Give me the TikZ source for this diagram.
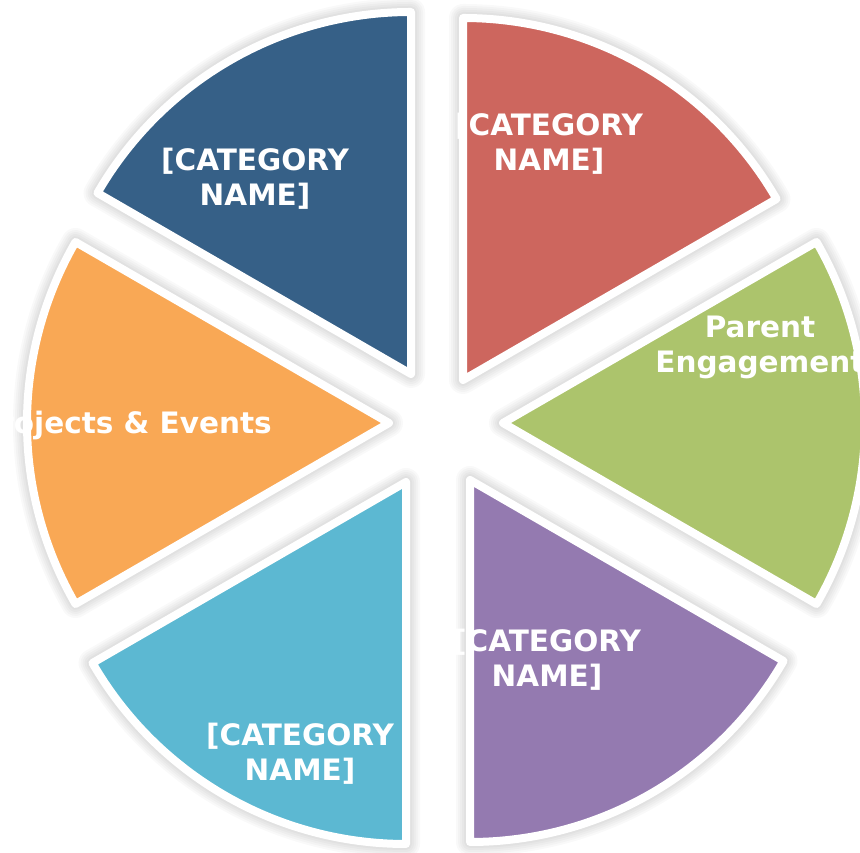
\documentclass[tikz,border=0pt]{standalone}
\usepackage{fontspec}
\setmainfont{DejaVu Sans}
\definecolor{cblue}{RGB}{54,96,135}
\definecolor{cred}{RGB}{205,102,94}
\definecolor{cgreen}{RGB}{172,196,108}
\definecolor{corange}{RGB}{249,168,85}
\definecolor{ccyan}{RGB}{92,184,210}
\definecolor{cpurple}{RGB}{148,122,176}
\tikzset{
  slicefill/.style={fill=#1, draw=white, line width=8pt, line join=round},
  shadowline/.style={draw=black, opacity=0.022, line join=round},
  lbl/.style={text=white, font=\fontsize{29.5}{35}\selectfont\bfseries, align=center, inner sep=0pt},
}
\newcommand\myslice[5]{%
  \coordinate (#1) at (#2);
  \foreach \w in {28,24,20,16,12} {\draw[shadowline, line width=\w pt] (#1) -- ++(#3:362pt) arc[start angle=#3, end angle=#4, radius=362pt] -- cycle;}
  \draw[slicefill=#5] (#1) -- ++(#3:362pt) arc[start angle=#3, end angle=#4, radius=362pt] -- cycle;
}
\begin{document}
\begin{tikzpicture}[x=1pt,y=1pt]
  \useasboundingbox (0,0) rectangle (860,853);
  \clip (0,0) rectangle (860,853);
  \fill[white] (0,0) rectangle (860,853);
  \myslice{redA}{463,473}{30}{90}{cred}
  \myslice{blueA}{411,479}{90}{150}{cblue}
  \myslice{orangeA}{389,430}{150}{210}{corange}
  \myslice{cyanA}{406,371}{210}{270}{ccyan}
  \myslice{purpleA}{470,373}{270}{330}{cpurple}
  \myslice{greenA}{503,430}{-30}{30}{cgreen}
  \node[lbl] (blueT) at (255,674) {[CATEGORY\\NAME]};
  \node[lbl] (redT) at (549,709) {[CATEGORY\\NAME]};
  \node[lbl] (greenT) at (760,506) {Parent\\Engagement};
  \node[lbl, anchor=base east] (orangeT) at (272,419) {Projects \& Events};
  \node[lbl] (purpleT) at (547,193) {[CATEGORY\\NAME]};
  \node[lbl] (cyanT) at (300,99) {[CATEGORY\\NAME]};
\end{tikzpicture}
\end{document}
